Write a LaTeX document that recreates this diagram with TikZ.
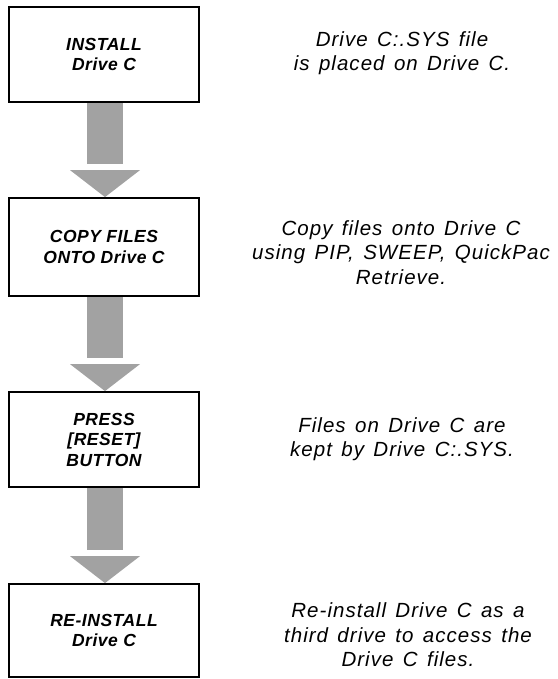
\documentclass[tikz,border=0pt]{standalone}
\usepackage{fontspec}
\setmainfont{Liberation Sans}
\newfontfamily\boxfont[LetterSpace=3]{Liberation Sans}
\newfontfamily\notefont[LetterSpace=5,WordSpace=1.4]{Liberation Sans}
\usetikzlibrary{calc}
\definecolor{arrowgray}{RGB}{162,162,162}
\tikzset{
  stepbox/.style={draw=black, line width=1.8pt, minimum width=190pt, inner sep=0pt,
    align=center, font=\boxfont\bfseries\itshape\fontsize{17.5}{20.5}\selectfont},
  note/.style={inner sep=0pt, align=center, font=\notefont\itshape\fontsize{20.5}{24.5}\selectfont},
  shaft/.style={fill=arrowgray},
  head/.style={fill=arrowgray}
}
\begin{document}
\begin{tikzpicture}[x=1pt,y=-1pt]
\useasboundingbox (0,0) rectangle (557,679);
\node[stepbox, minimum height=95pt] (b1) at (104,54.5) {INSTALL\\Drive C};
\node[stepbox, minimum height=98pt] (b2) at (104,247) {COPY FILES\\ONTO Drive C};
\node[stepbox, minimum height=95pt] (b3) at (104,439.5) {PRESS\\{[RESET]}\\BUTTON};
\node[stepbox, minimum height=93pt] (b4) at (104,630.5) {RE-INSTALL\\Drive C};

\node[note] (n1) at (402,53) {Drive C:.SYS file\\is placed on Drive C.};
\node[note] (n2) at (401,252.5) {Copy files onto Drive C\\using PIP, SWEEP, QuickPac\\Retrieve.};
\node[note] (n3) at (402,439) {Files on Drive C are\\kept by Drive C:.SYS.};
\node[note] (n4) at (408,635) {Re-install Drive C as a\\third drive to access the\\Drive C files.};

\foreach \a/\b in {b1/b2,b2/b3,b3/b4}{
  \fill[shaft] ($(\a.south)+(-17,0)$) rectangle ($(\b.north)+(19,-33)$);
  \fill[head] ($(\b.north)+(-34,-27)$) -- ($(\b.north)+(36,-27)$) -- ($(\b.north)+(1,0)$) -- cycle;
}
\end{tikzpicture}
\end{document}
